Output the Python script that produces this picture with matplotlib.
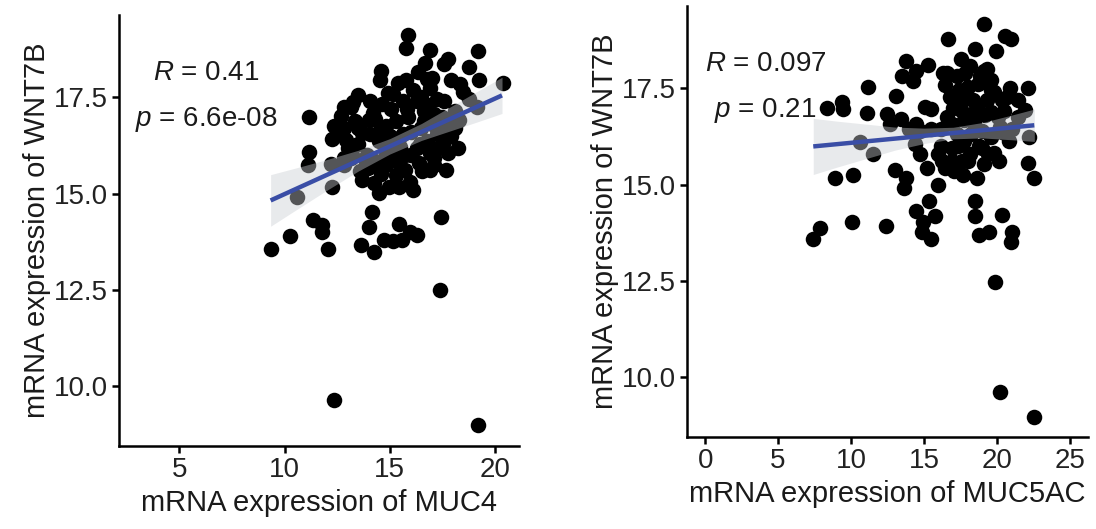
import matplotlib
matplotlib.use("Agg")
import matplotlib.pyplot as plt
import numpy as np

plt.rcParams["font.family"] = ["Liberation Sans", "DejaVu Sans"]

# =========================
# Data
# =========================
muc4_x = [9.34, 10.25, 11.16, 11.16, 11.1, 10.59, 11.36, 11.77, 11.77, 12.05,
          12.21, 12.26, 12.34, 13.62, 14.23, 14.15, 14.02, 14.72, 15.13, 15.46,
          15.59, 15.95, 16.31, 17.43, 17.38, 19.2, 15.87, 15.79, 16.93, 16.69,
          17.75, 17.56, 18.74, 19.2, 19.23, 20.38, 14.56, 14.52, 13.49, 15.38,
          16.11, 16.77, 16.93, 17.92, 18.33, 18.74, 19.15, 12.84, 12.67, 13.25,
          14.07, 14.64, 15.05, 15.62, 16.28, 17.26, 16.61, 12.51, 12.26, 12.84,
          13.33, 13.66, 14.31, 14.8, 15.3, 15.87, 16.61, 17.1, 17.75, 18.08,
          13.0, 12.84, 13.49, 13.9, 14.48, 14.97, 15.46, 15.71, 16.28, 16.77,
          17.26, 17.59, 18.25, 17.75, 17.1, 16.44, 13.57, 13.66, 13.98, 14.23,
          14.48, 14.31, 14.8, 15.3, 14.97, 15.46, 15.95, 16.11, 16.52, 17.1,
          17.67, 16.93, 12.84, 13.16, 17.26, 16.03, 15.3, 14.8, 14.07, 15.13,
          15.79, 16.36, 17.59, 18.08, 18.49, 13.16, 12.34, 15.62,
          13.5, 14.0, 14.5, 15.0, 15.5, 16.0, 16.5, 17.0, 17.5, 14.2,
          15.8, 16.8, 13.8, 14.6, 15.7, 16.4, 16.9, 17.4, 17.9, 18.3,
          12.9, 13.2, 14.9, 16.5, 17.0, 15.2]
muc4_y = [13.56, 13.89, 16.99, 16.08, 15.75, 14.92, 14.3, 14.19, 14.0, 13.56,
          15.78, 15.18, 9.63, 13.65, 13.49, 14.53, 14.13, 13.78, 13.76, 14.22,
          13.78, 14.0, 13.93, 14.39, 12.49, 8.99, 19.12, 18.79, 18.74, 18.39,
          18.5, 18.37, 18.29, 18.71, 17.95, 17.87, 18.18, 17.94, 17.56, 17.87,
          17.69, 17.98, 17.75, 17.95, 17.85, 17.46, 17.26, 17.24, 17.02, 17.37,
          17.41, 17.33, 17.19, 17.41, 17.41, 17.46, 17.15, 16.63, 16.41, 16.71,
          16.89, 16.58, 16.93, 16.76, 16.89, 16.98, 16.89, 17.06, 16.76, 16.71,
          16.19, 15.93, 16.28, 16.01, 16.36, 16.19, 16.45, 16.01, 16.19, 16.36,
          16.54, 16.36, 16.19, 16.06, 15.93, 16.28, 15.58, 15.36, 15.66, 15.27,
          15.01, 15.84, 15.75, 15.49, 15.18, 15.18, 15.31, 15.09, 15.58, 15.75,
          15.62, 16.06, 15.75, 15.93, 16.71, 16.01, 15.84, 16.01, 16.54, 17.59,
          17.94, 18.16, 17.41, 17.15, 17.63, 17.24, 16.76, 16.54,
          16.7, 16.9, 16.6, 16.5, 16.2, 16.6, 16.7, 16.8, 17.0, 17.1,
          17.2, 17.3, 15.9, 15.5, 15.6, 15.8, 15.6, 16.2, 16.5, 16.9,
          16.4, 16.0, 17.6, 17.5, 18.0, 15.9]

muc5ac_x = [7.36, 7.89, 8.38, 8.87, 9.4, 9.48, 10.04, 10.14, 10.58, 11.18,
            11.11, 11.5, 12.4, 12.48, 12.65, 13.06, 13.01, 13.45, 13.5, 13.74,
            13.74, 13.62, 14.23, 14.43, 14.48, 14.35, 14.72, 14.43, 14.92, 14.84,
            15.33, 15.5, 15.74, 15.21, 15.09, 15.26, 15.45, 15.94, 16.18, 16.55,
            16.67, 16.3, 16.43, 16.91, 17.03, 17.28, 17.52, 17.64, 17.64, 17.76,
            18.0, 18.13, 18.49, 18.25, 18.49, 18.49, 18.62, 18.74, 18.86, 19.1,
            19.1, 18.98, 19.47, 19.35, 19.59, 19.79, 19.84, 19.91, 20.08, 20.2,
            20.37, 20.56, 20.93, 20.81, 20.13, 20.69, 21.05, 20.93, 21.42, 21.42,
            21.91, 22.15, 22.23, 22.15, 22.52, 22.52, 21.05, 20.32, 19.59, 18.98,
            18.25, 17.76, 17.28, 16.91, 16.18, 15.45, 14.72, 13.99, 18.13, 19.1,
            19.59, 17.4, 16.79, 16.91, 15.94, 16.43, 18.0, 19.59, 20.32, 18.37,
            17.52,
            17.0, 17.9, 18.6, 19.2, 19.8, 20.5, 18.4, 17.3, 18.8, 19.4,
            20.2, 16.6, 17.8, 18.7, 19.3, 20.9, 16.2, 17.6]
muc5ac_y = [13.58, 13.88, 17.0, 15.18, 17.15, 16.95, 14.03, 15.26, 16.1, 17.53,
            16.86, 15.79, 13.93, 16.84, 16.58, 17.3, 15.39, 16.71, 17.82, 18.2,
            15.18, 14.91, 17.68, 17.96, 16.58, 16.05, 15.79, 14.32, 14.03, 13.77,
            14.56, 13.58, 14.17, 15.44, 17.02, 18.11, 16.97, 15.0, 16.01, 16.75,
            18.77, 17.89, 17.59, 15.61, 15.35, 17.81, 18.25, 15.26, 17.19, 16.14,
            17.54, 15.79, 18.51, 16.84, 14.56, 14.17, 15.18, 13.68, 17.81, 19.17,
            15.53, 16.4, 13.77, 17.19, 17.72, 15.83, 12.47, 18.46, 16.75, 9.62,
            14.21, 18.86, 18.77, 16.14, 15.61, 17.28, 13.77, 13.51, 17.19, 16.75,
            16.93, 17.52, 16.23, 15.57, 15.18, 8.96, 16.45, 16.36, 16.23, 15.96,
            16.32, 16.67, 16.32, 16.58, 16.45, 16.45, 16.4, 16.45, 18.07, 17.94,
            17.46, 17.46, 17.28, 15.96, 15.79, 15.44, 15.61, 16.89, 17.19, 17.19,
            16.93,
            17.0, 17.3, 17.0, 16.8, 17.4, 16.9, 16.6, 16.0, 16.0, 15.8,
            16.5, 17.9, 17.9, 17.6, 18.0, 17.5, 15.6, 15.6]

# fitted line end points and confidence band half-widths
fit1_x = [9.34, 20.33]
fit1_y = [14.82, 17.55]
band1_x = [9.34, 10.5, 12.0, 13.5, 15.0, 16.5, 18.0, 19.2, 20.33]
band1_hw = [0.67, 0.55, 0.40, 0.27, 0.20, 0.22, 0.32, 0.40, 0.47]

fit2_x = [7.41, 22.56]
fit2_y = [15.99, 16.54]
band2_x = [7.41, 9.0, 11.0, 13.0, 15.0, 17.0, 19.0, 21.0, 22.56]
band2_hw = [0.73, 0.60, 0.45, 0.30, 0.20, 0.15, 0.20, 0.32, 0.42]

labels1 = ["0.41", "6.6e-08"]
labels2 = ["0.097", "0.21"]

y_ticks = [10.0, 12.5, 15.0, 17.5]


def draw_panel(ax, x, y, fx, fy, bx, bhw, labs, lab_x, xlabel, xlim, xticks):
    ax.scatter(x, y, s=125, color="black", linewidths=0, zorder=2)
    # line through the fit ends, evaluated at band positions
    line_y = np.interp(bx, fx, fy)
    ax.fill_between(bx, line_y - np.array(bhw), line_y + np.array(bhw),
                    color="#c9cdd2", alpha=0.42, linewidth=0, zorder=3)
    ax.plot(fx, fy, color="#3a4ea6", lw=3.2, solid_capstyle="butt", zorder=4)

    ax.text(lab_x, 18.12, "$R$ = " + labs[0], ha="center", va="center",
            fontsize=20, color="#1a1a1a", zorder=5)
    ax.text(lab_x, 16.93, "$p$ = " + labs[1], ha="center", va="center",
            fontsize=20, color="#1a1a1a", zorder=5)

    ax.set_xlim(*xlim)
    ax.set_ylim(8.44, 19.64)
    ax.set_xticks(xticks)
    ax.set_yticks(y_ticks)
    ax.set_yticklabels([f"{v:.1f}" for v in y_ticks])
    for s in ["top", "right"]:
        ax.spines[s].set_visible(False)
    for s in ["left", "bottom"]:
        ax.spines[s].set_linewidth(1.8)
    ax.tick_params(labelsize=20, width=1.8, length=5, pad=3, colors="black",
                   labelcolor="#222222")
    ax.set_xlabel(xlabel, fontsize=21, color="#1a1a1a")
    ax.set_ylabel("mRNA expression of WNT7B", fontsize=21, color="#1a1a1a",
                  labelpad=2)


plt.rcParams["mathtext.fontset"] = "custom"
plt.rcParams["mathtext.it"] = "Liberation Sans:italic"
plt.rcParams["mathtext.rm"] = "Liberation Sans"

fig = plt.figure(figsize=(10.96, 5.29), dpi=100)
ax1 = fig.add_axes([0.1086, 0.157, 0.365, 0.8147])
ax2 = fig.add_axes([0.627, 0.174, 0.3653, 0.8147])

draw_panel(ax1, muc4_x, muc4_y, fit1_x, fit1_y, band1_x, band1_hw, labels1, 6.3,
           "mRNA expression of MUC4", (2.14, 21.14), [5, 10, 15, 20])
draw_panel(ax2, muc5ac_x, muc5ac_y, fit2_x, fit2_y, band2_x, band2_hw, labels2, 4.15,
           "mRNA expression of MUC5AC", (-1.23, 26.21), [0, 5, 10, 15, 20, 25])

fig.savefig("out.png", dpi=100)
